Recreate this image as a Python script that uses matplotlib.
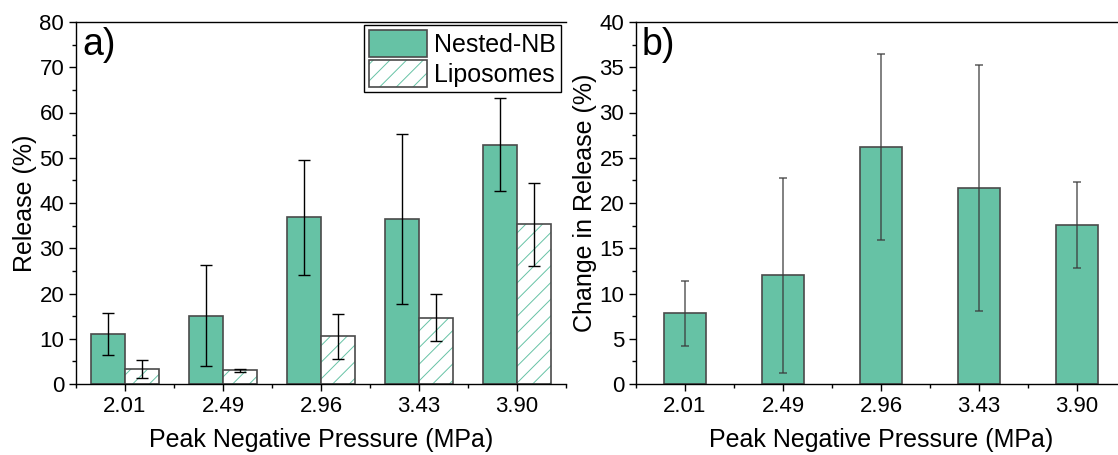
import numpy as np
import matplotlib
matplotlib.use("Agg")
import matplotlib.pyplot as plt
from matplotlib.patches import Patch
from matplotlib.legend_handler import HandlerTuple
from matplotlib.ticker import MultipleLocator, FixedLocator

plt.rcParams['font.family'] = ['Liberation Sans', 'DejaVu Sans']
plt.rcParams['hatch.linewidth'] = 0.7

pressures = ["2.01", "2.49", "2.96", "3.43", "3.90"]

# panel a) release (%)
nested_nb = [11.1, 15.1, 36.8, 36.4, 52.9]
nested_nb_err = [4.7, 11.1, 12.8, 18.8, 10.3]
liposomes = [3.3, 3.0, 10.5, 14.6, 35.3]
liposomes_err = [2.0, 0.3, 4.9, 5.2, 9.2]

# panel b) change in release (%)
change = [7.8, 12.0, 26.2, 21.7, 17.6]
change_err = [3.6, 10.8, 10.3, 13.6, 4.75]

green = "#66C2A5"
edge = "#4a4a4a"

fig = plt.figure(figsize=(11.18, 4.55), dpi=100)
ax1 = fig.add_axes([76 / 1118, 1 - 384 / 455, 490 / 1118, 362 / 455])
ax2 = fig.add_axes([636 / 1118, 1 - 384 / 455, 490 / 1118, 362 / 455])

x = np.arange(len(pressures))
w = 0.35

# --- panel a
ax1.bar(x - w / 2, nested_nb, w, color=green, edgecolor=edge, linewidth=1.2, zorder=2)
ax1.errorbar(x - w / 2, nested_nb, yerr=nested_nb_err, fmt='none', ecolor='black',
             elinewidth=1.0, capsize=4, capthick=1.0, zorder=3)
ax1.bar(x + w / 2, liposomes, w, color='white', edgecolor=green, linewidth=0,
        hatch='//', zorder=2)
ax1.bar(x + w / 2, liposomes, w, fill=False, edgecolor=edge, linewidth=1.2, zorder=2)
ax1.errorbar(x + w / 2, liposomes, yerr=liposomes_err, fmt='none', ecolor='black',
             elinewidth=1.0, capsize=4, capthick=1.0, zorder=3)

ax1.set_ylim(0, 80)
ax1.set_xlim(-0.5, 4.5)
ax1.yaxis.set_major_locator(MultipleLocator(10))
ax1.yaxis.set_minor_locator(MultipleLocator(5))
ax1.set_ylabel("Release (%)", fontsize=18, labelpad=2)
ax1.text(0.012, 0.985, "a)", transform=ax1.transAxes, fontsize=27, va='top', ha='left')
ax1.spines['right'].set_visible(False)

h_nb = Patch(facecolor=green, edgecolor=edge, linewidth=1.2)
h_lip_fill = Patch(facecolor='white', edgecolor=green, linewidth=0, hatch='//')
h_lip_edge = Patch(fill=False, edgecolor=edge, linewidth=1.2)
leg = ax1.legend([h_nb, (h_lip_fill, h_lip_edge)], ["Nested-NB", "Liposomes"],
                 handler_map={tuple: HandlerTuple(ndivide=1)},
                 loc='upper right', bbox_to_anchor=(0.995, 1.0), fontsize=18,
                 frameon=True, fancybox=False, framealpha=1, edgecolor='black',
                 handlelength=2.3, handleheight=1.3, handletextpad=0.3,
                 borderpad=0.2, labelspacing=0.12, borderaxespad=0.1)
leg.get_frame().set_linewidth(1.0)

# --- panel b
ax2.bar(x, change, 0.42, color=green, edgecolor=edge, linewidth=1.2, zorder=2)
ax2.errorbar(x, change, yerr=change_err, fmt='none', ecolor='#3a3a3a', alpha=0.75,
             elinewidth=1.2, capsize=3, capthick=1.2, zorder=3)
ax2.set_ylim(0, 40)
ax2.set_xlim(-0.5, 4.5)
ax2.yaxis.set_major_locator(MultipleLocator(5))
ax2.yaxis.set_minor_locator(MultipleLocator(2.5))
ax2.set_ylabel("Change in Release (%)", fontsize=18, labelpad=2)
ax2.text(0.012, 0.985, "b)", transform=ax2.transAxes, fontsize=27, va='top', ha='left')

for ax in (ax1, ax2):
    ax.set_xticks(x)
    ax.set_xticklabels(pressures)
    ax.xaxis.set_minor_locator(FixedLocator(np.arange(-0.5, 5.0, 1.0)))
    ax.set_xlabel("Peak Negative Pressure (MPa)", fontsize=18, labelpad=8)
    ax.tick_params(axis='both', which='major', direction='out', length=5, width=1.0,
                   labelsize=16)
    ax.tick_params(axis='both', which='minor', direction='out', length=3, width=1.0)
    for s in ax.spines.values():
        s.set_linewidth(1.0)

fig.savefig("out.png", dpi=100)
